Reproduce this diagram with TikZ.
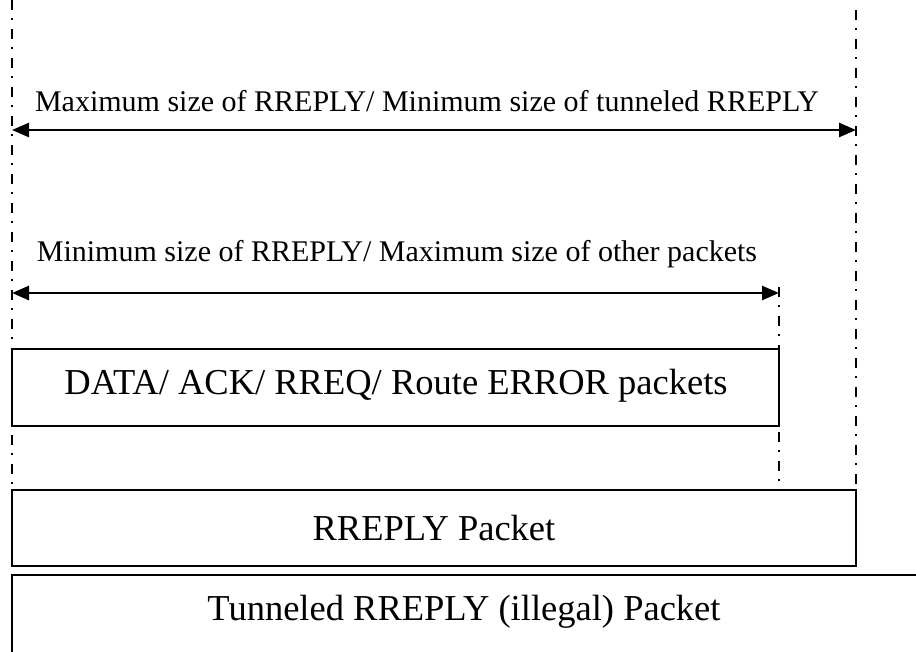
\documentclass[tikz,border=0pt]{standalone}
\usepackage{fontspec}
\setmainfont{Liberation Serif}
\usetikzlibrary{arrows.meta}
\begin{document}
\begin{tikzpicture}[x=1pt,y=-1pt,
  guide/.style={line width=2.4pt,dash pattern=on 10pt off 8pt on 2pt off 9pt},
  pktbox/.style={draw,line width=2.2pt,rectangle},
  span/.style={line width=2.6pt,{Triangle[length=17pt,width=14pt]}-{Triangle[length=17pt,width=14pt]}},
  lbl/.style={font=\fontsize{30}{36}\selectfont,inner sep=0pt},
  boxlbl/.style={font=\fontsize{36.5}{42}\selectfont,inner sep=0pt}]
\useasboundingbox (0,0) rectangle (916,651);
% vertical guides
\coordinate (gLtop) at (12,0);
\coordinate (gLbot) at (12,490);
\coordinate (gRtop) at (856,10);
\coordinate (gRbot) at (856,490);
\coordinate (gMtop) at (779,287);
\coordinate (gMbot) at (779,490);
\draw[guide] (gLtop) -- (gLbot);
\draw[guide] (gRtop) -- (gRbot);
\draw[guide] (gMtop) -- (gMbot);
% size arrows
\coordinate (a1L) at (12,130);
\coordinate (a1R) at (856,130);
\coordinate (a2L) at (12,293);
\coordinate (a2R) at (779,293);
\draw[span] (a1L) -- (a1R);
\draw[span] (a2L) -- (a2R);
\node[lbl] (t1) at (427,101) {Maximum size of RREPLY/ Minimum size of tunneled RREPLY};
\node[lbl] (t2) at (397,254) {Minimum size of RREPLY/ Maximum size of other packets};
% packet boxes
\draw[pktbox] (12,349) rectangle (779,426);
\node[boxlbl] (b1) at (396,386) {DATA/ ACK/ RREQ/ Route ERROR packets};
\draw[pktbox] (12,490) rectangle (856,566);
\node[boxlbl] (b2) at (434,528) {RREPLY Packet};
\draw[pktbox] (920,575) -- (12,575) -- (12,660);
\node[boxlbl] (b3) at (464,612) {Tunneled RREPLY (illegal) Packet};
\end{tikzpicture}
\end{document}
